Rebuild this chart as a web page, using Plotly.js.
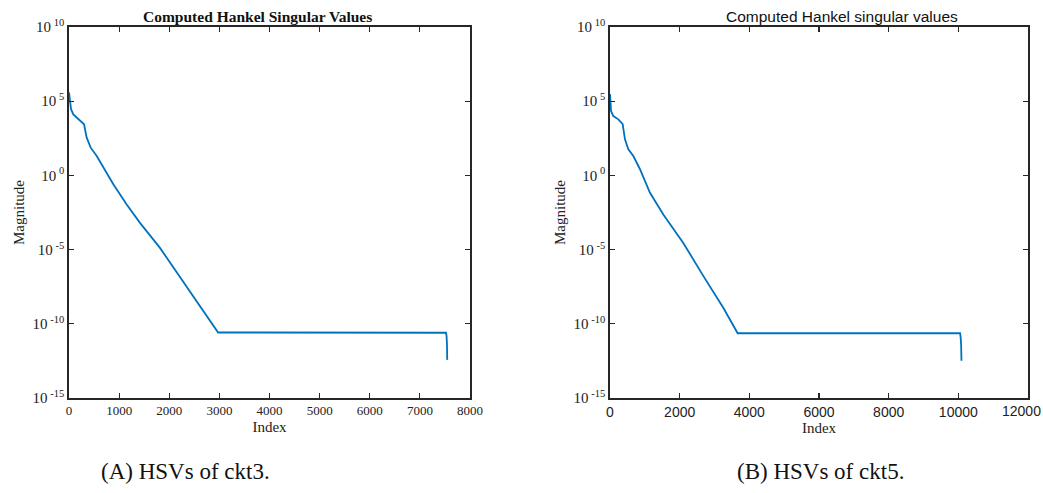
<!DOCTYPE html>
<html>
<head>
<meta charset="utf-8">
<script src="https://cdn.plot.ly/plotly-3.0.1.min.js"></script>
<style>html,body{margin:0;padding:0;background:#fff;}#chart{width:1043px;height:493px;}</style>
</head>
<body>
<div id="chart"></div>
<script>
// ckt3 (A)
const idxA = [1, 40, 86, 186, 300, 353, 433, 553, 684, 884, 1151, 1416, 1815, 2214, 2613, 2946, 2975, 7520, 7532, 7540, 7546];
const hsvA = [3.9e5, 2.9e4, 1.3e4, 6.8e3, 2.8e3, 3.5e2, 74, 20, 3.3, 0.25, 1.1e-2, 6.3e-4, 1.3e-5, 1.5e-7, 1.6e-9, 3.6e-11, 2.6e-11, 2.5e-11, 1.6e-11, 5e-12, 3.7e-13];
// ckt5 (B)
const idxB = [1, 30, 95, 240, 364, 430, 526, 670, 861, 1148, 1530, 2104, 2678, 3252, 3665, 10050, 10065, 10080, 10090];
const hsvB = [3.0e5, 2.2e4, 1.0e4, 6.0e3, 2.8e3, 2.7e2, 58, 20, 2.6, 6.8e-2, 2.3e-3, 2.8e-5, 1.7e-7, 1.2e-9, 2.3e-11, 2.3e-11, 1.3e-11, 4e-12, 3.2e-13];

const yTickVals = [1e-15, 1e-10, 1e-5, 1, 1e5, 1e10];
const yTickText = ['10<sup> -15</sup>', '10<sup> -10</sup>', '10<sup> -5</sup>', '10<sup> 0</sup>', '10<sup> 5</sup>', '10<sup> 10</sup>'];
const xTicksA = [0, 1000, 2000, 3000, 4000, 5000, 6000, 7000, 8000];
const xTicksB = [0, 2000, 4000, 6000, 8000, 10000, 12000];

const titleA = 'Computed Hankel Singular Values';
const titleB = 'Computed Hankel singular values';
const captionA = '(A) HSVs of ckt3.';
const captionB = '(B) HSVs of ckt5.';

const serif = 'Liberation Serif, Times New Roman, serif';
const sans = 'Liberation Sans, Arial, sans-serif';
const lineColor = '#0072BD';
const axisColor = '#262626';

const traces = [
  {x: idxA, y: hsvA, type: 'scatter', mode: 'lines', line: {color: lineColor, width: 1.8}, xaxis: 'x', yaxis: 'y', hoverinfo: 'skip'},
  {x: idxB, y: hsvB, type: 'scatter', mode: 'lines', line: {color: lineColor, width: 1.8}, xaxis: 'x2', yaxis: 'y2', hoverinfo: 'skip'}
];

function xAxis(domain, ticks, labels, fontFam, fontSize, anchor, range) {
  return {
    domain: domain, anchor: anchor, range: range,
    tickvals: ticks, ticktext: labels,
    ticks: 'inside', ticklen: 5, tickwidth: 1.2, tickcolor: axisColor,
    showline: true, linecolor: axisColor, linewidth: 1.8, mirror: 'ticks',
    showgrid: false, zeroline: false,
    tickfont: {family: fontFam, size: fontSize, color: '#222'},
    title: {text: 'Index', font: {family: serif, size: 15, color: '#222'}, standoff: 4}
  };
}
function yAxis(domain, anchor) {
  return {
    domain: domain, anchor: anchor, type: 'log', range: [-15, 10],
    tickvals: yTickVals, ticktext: yTickText,
    ticks: 'inside', ticklen: 5, tickwidth: 1.2, tickcolor: axisColor,
    showline: true, linecolor: axisColor, linewidth: 1.8, mirror: 'ticks',
    showgrid: false, zeroline: false,
    tickfont: {family: serif, size: 15, color: '#222'},
    title: {text: 'Magnitude', font: {family: serif, size: 15, color: '#222'}, standoff: 4}
  };
}

const labelsB = xTicksB.map(v => v === 12000 ? '' : String(v));
const yDom = [1 - 398/493, 1 - 27/493];
const layout = {
  width: 1043, height: 493,
  margin: {l: 0, r: 0, t: 0, b: 0},
  paper_bgcolor: '#fff', plot_bgcolor: '#fff',
  showlegend: false,
  xaxis: xAxis([69/1043, 470/1043], xTicksA, xTicksA.map(String), serif, 13, 'y', [0, 8000]),
  yaxis: yAxis(yDom, 'x'),
  xaxis2: xAxis([610/1043, 1028/1043], xTicksB, labelsB, sans, 14, 'y2', [0, 12000]),
  yaxis2: yAxis(yDom, 'x2'),
  annotations: [
    {text: '<b>' + titleA + '</b>', x: 257/1043, y: 1 - 16/493, xref: 'paper', yref: 'paper', showarrow: false, xanchor: 'center', yanchor: 'middle', font: {family: serif, size: 15.5, color: '#111'}},
    {text: titleB, x: 842/1043, y: 1 - 16/493, xref: 'paper', yref: 'paper', showarrow: false, xanchor: 'center', yanchor: 'middle', font: {family: sans, size: 15.5, color: '#111'}},
    {text: String(xTicksB[xTicksB.length - 1]), x: 1043/1043, y: 1 - 411/493, xref: 'paper', yref: 'paper', showarrow: false, xanchor: 'right', yanchor: 'middle', font: {family: sans, size: 14, color: '#222'}},
    {text: captionA, x: 185/1043, y: 1 - 471/493, xref: 'paper', yref: 'paper', showarrow: false, xanchor: 'center', yanchor: 'middle', font: {family: serif, size: 23, color: '#111'}},
    {text: captionB, x: 820/1043, y: 1 - 471/493, xref: 'paper', yref: 'paper', showarrow: false, xanchor: 'center', yanchor: 'middle', font: {family: serif, size: 23, color: '#111'}}
  ]
};

Plotly.newPlot('chart', traces, layout, {staticPlot: true, displayModeBar: false});
</script>
</body>
</html>
